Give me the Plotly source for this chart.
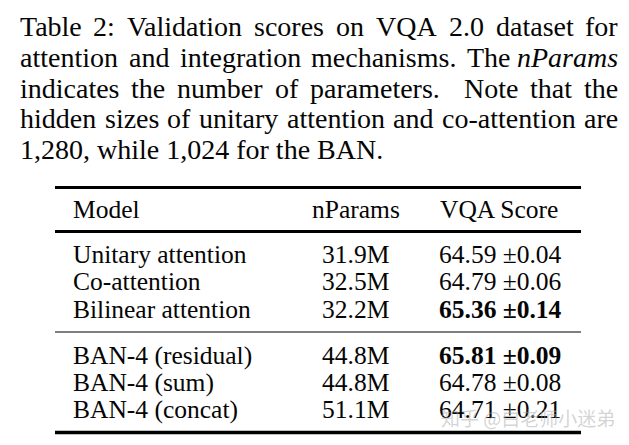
import plotly.graph_objects as go

# ---------------- data ----------------
caption_lines = [
    ["Table", "2:", "Validation", "scores", "on", "VQA", "2.0", "dataset", "for"],
    ["attention", "and", "integration", "mechanisms.", "The", "<i>nParams</i>"],
    ["indicates", "the", "number", "of", "parameters.", "", "Note", "that", "the"],
    ["hidden", "sizes", "of", "unitary", "attention", "and", "co-attention", "are"],
    ["1,280,", "while", "1,024", "for", "the", "BAN."],
]
headers = ["Model", "nParams", "VQA Score"]
models = ["Unitary attention", "Co-attention", "Bilinear attention",
          "BAN-4 (residual)", "BAN-4 (sum)", "BAN-4 (concat)"]
nparams = ["31.9M", "32.5M", "32.2M", "44.8M", "44.8M", "51.1M"]
scores = ["64.59 ±0.04", "64.79 ±0.06", "65.36 ±0.14",
          "65.81 ±0.09", "64.78 ±0.08", "64.71 ±0.21"]
best = [False, False, True, True, False, False]
watermark = "知乎 @白老师小迷弟"

# ---------------- layout helpers ----------------
FONT = "Liberation Serif, Times New Roman, serif"
W, H = 629, 445
INK = "#050505"

# Times-Roman advance widths (per 1000 em) for justification
tw = {' ': 250, ',': 250, '-': 333, '.': 250, ':': 278, '0': 500, '1': 500, '2': 500,
      '3': 500, '4': 500, '5': 500, '6': 500, '7': 500, '8': 500, '9': 500,
      'A': 722, 'B': 667, 'N': 722, 'Q': 722, 'T': 611, 'V': 722, 'P': 556,
      'a': 444, 'b': 500, 'c': 444, 'd': 500, 'e': 444, 'f': 333, 'g': 500, 'h': 500,
      'i': 278, 'j': 278, 'k': 500, 'l': 278, 'm': 778, 'n': 500, 'o': 500, 'p': 500,
      'q': 500, 'r': 333, 's': 389, 't': 278, 'u': 500, 'v': 500, 'w': 722, 'x': 500,
      'y': 500, 'z': 444}
kern = {"Ta": -80, "Va": -111}


def word_width(word, size):
    w = word.replace("<i>", "").replace("</i>", "")
    total = sum(tw.get(c, 500) for c in w)
    total += sum(kern.get(w[i:i + 2], 0) for i in range(len(w) - 1))
    return total * size / 1000.0


fig = go.Figure()
fig.add_trace(go.Scatter(x=[0, W], y=[0, H], mode="markers",
                         marker=dict(opacity=0), hoverinfo="skip", showlegend=False))

annotations = []


def txt(x, y, text, anchor, size, family=FONT, color=INK):
    annotations.append(dict(x=x, y=y, text=text, xanchor=anchor, yanchor="middle",
                            showarrow=False, borderpad=0, borderwidth=0,
                            font=dict(family=family, size=size, color=color)))


# caption (justified, last line ragged)
cap_size = 28
cap_left, cap_right = 20, 618
cap_y = [26, 57, 88, 118.5, 149]
for li, words in enumerate(caption_lines):
    y = cap_y[li]
    if li == len(caption_lines) - 1:
        txt(cap_left, y, " ".join(words), "left", cap_size)
        continue
    widths = [word_width(w, cap_size) for w in words]
    gap = (cap_right - cap_left - sum(widths)) / (len(words) - 1)
    x = cap_left
    for wi, (w, ww) in enumerate(zip(words, widths)):
        if w:
            if wi == len(words) - 1:
                txt(cap_right, y, w, "right", cap_size)
            else:
                txt(x, y, w, "left", cap_size)
        x += ww + gap

# table
tsize = 25.5
col_model_x, col_np_x, col_sc_x = 73, 356, 500
header_y = 209
row_y = [254, 281.5, 309, 355, 382, 409]

for t, x, anc in zip(headers, [col_model_x, col_np_x, col_sc_x - 1], ["left", "center", "center"]):
    txt(x, header_y, t, anc, tsize)

for i in range(len(models)):
    y = row_y[i]
    txt(col_model_x, y, models[i], "left", tsize)
    txt(col_np_x - 1, y, nparams[i], "center", tsize)
    txt(col_sc_x, y, f"<b>{scores[i]}</b>" if best[i] else scores[i], "center", tsize)

# watermark
txt(528, 417, watermark, "center", 19, family="Noto Sans CJK SC",
    color="rgba(170,170,170,0.5)")

# rules
rule_x0, rule_x1 = 55, 581
rules = [(187.5, 3), (231.5, 3), (332, 1.2), (432.5, 3.5)]
shapes = [dict(type="line", x0=rule_x0, x1=rule_x1, y0=y, y1=y, xref="x", yref="y",
               line=dict(color="#000", width=w)) for y, w in rules]

fig.update_layout(
    width=W, height=H, autosize=False,
    margin=dict(l=0, r=0, t=0, b=0),
    paper_bgcolor="white", plot_bgcolor="white",
    xaxis=dict(range=[0, W], visible=False, fixedrange=True),
    yaxis=dict(range=[H, 0], visible=False, fixedrange=True),
    annotations=annotations, shapes=shapes, showlegend=False,
)
fig.write_html("out.html", config={"displayModeBar": False},
               post_script="document.body.style.margin='0';document.body.style.overflow='hidden';")
